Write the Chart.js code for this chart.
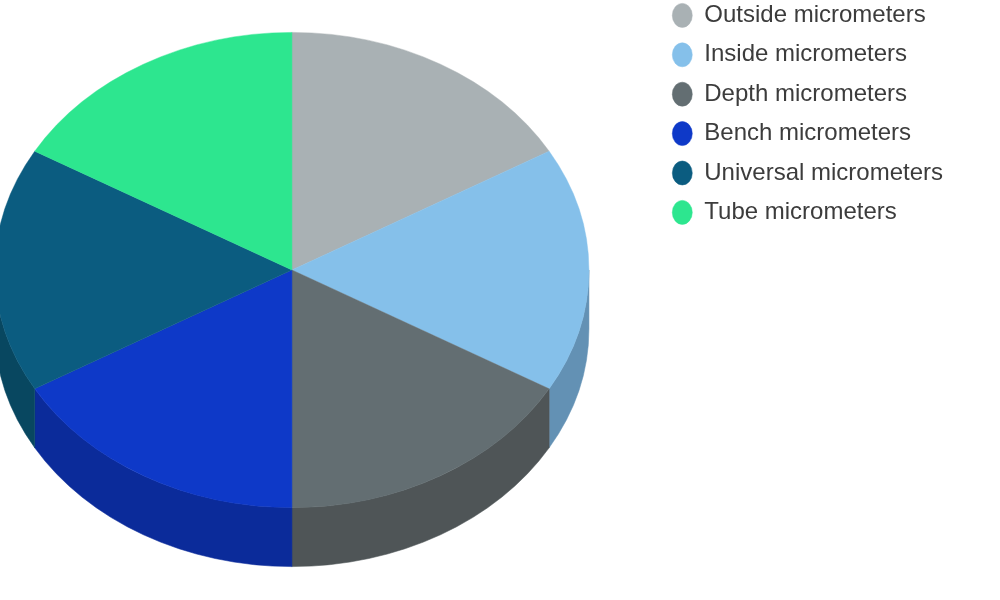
<!DOCTYPE html>
<html>
<head>
<meta charset="utf-8">
<title>Micrometers</title>
<script src="https://cdn.jsdelivr.net/npm/chart.js@4/dist/chart.umd.min.js"></script>
<style>
html,body{margin:0;padding:0;background:#fff;overflow:hidden}
#wrap{position:relative;width:1000px;height:600px;overflow:hidden}
#c{position:absolute;left:-73px;top:-12px}
</style>
</head>
<body>
<div id="wrap"><canvas id="c" width="1026" height="640"></canvas></div>
<script>
var categories = ['Outside micrometers','Inside micrometers','Depth micrometers','Bench micrometers','Universal micrometers','Tube micrometers'];
var shares = [1,1,1,1,1,1];
var topColors = ['#a9b1b4','#85c0ea','#636e72','#0e39c8','#0b5c80','#2de68f'];
var sideColors = ['#7f8587','#6391b4','#4f5557','#0b2b9a','#084760','#22ad6c'];

var tilt = 0.8;      // vertical squash of the disc
var depth = 59;      // wall height, px
var radius = 297;
var centerY = 282;   // disc centre, canvas px

// squash the pie and draw the walls underneath it
var pie3d = {
  id: 'pie3d',
  beforeDatasetsDraw: function(chart){
    var ctx = chart.ctx;
    var arcs = chart.getDatasetMeta(0).data;
    var cx = arcs[0].x, cy = arcs[0].y;
    ctx.save();
    ctx.translate(cx, centerY);
    ctx.scale(1, tilt);
    ctx.translate(-cx, -cy);
    var off = depth / tilt;
    arcs.forEach(function(a, i){
      var s = Math.max(a.startAngle, 0), e = Math.min(a.endAngle, Math.PI);
      if(e <= s) return;
      ctx.beginPath();
      ctx.arc(cx, cy, a.outerRadius, s, e);
      ctx.arc(cx, cy + off, a.outerRadius, e, s, true);
      ctx.closePath();
      ctx.fillStyle = sideColors[i];
      ctx.strokeStyle = sideColors[i];
      ctx.lineWidth = 0.6;
      ctx.fill();
      ctx.stroke();
    });
  },
  afterDatasetsDraw: function(chart){
    chart.ctx.restore();
  }
};

new Chart(document.getElementById('c'), {
  type: 'pie',
  data: {
    labels: categories,
    datasets: [{
      data: shares,
      backgroundColor: topColors,
      borderColor: topColors,
      borderWidth: 0.5,
      radius: radius,
      clip: false
    }]
  },
  options: {
    responsive: false,
    animation: false,
    devicePixelRatio: 1,
    layout: { padding: 0 },
    plugins: {
      tooltip: { enabled: false },
      legend: {
        position: 'right',
        align: 'start',
        labels: {
          usePointStyle: true,
          pointStyle: 'circle',
          pointStyleWidth: 20,
          boxHeight: 17,
          padding: 15.4,
          color: '#3c3c3c',
          font: { family: '"Liberation Sans", Arial, sans-serif', size: 24 }
        }
      }
    }
  },
  plugins: [pie3d]
});
</script>
</body>
</html>
